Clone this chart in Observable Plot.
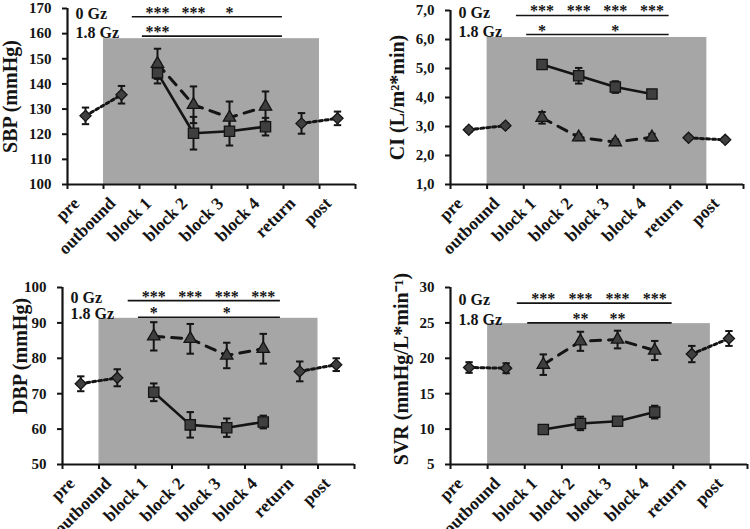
<!DOCTYPE html>
<html><head><meta charset="utf-8">
<script src="https://cdn.jsdelivr.net/npm/d3@7"></script>
<script src="https://cdn.jsdelivr.net/npm/@observablehq/plot@0.6"></script>
<style>
body{margin:0;background:#fff;}
#wrap{position:relative;width:750px;height:529px;overflow:hidden;background:#fff;}
.panel{position:absolute;}
</style></head><body><div id="wrap"></div>
<script>
// ---- shared categories ----
const categories = ["pre", "outbound", "block 1", "block 2", "block 3", "block 4", "return", "post"];
const baselineLabels = ["pre", "outbound", "return", "post"];
const blockLabels = ["block 1", "block 2", "block 3", "block 4"];
const gzLabels = ["0 Gz", "1.8 Gz"];

// ---- SBP (mmHg) ----
const sbpTicks = [100, 110, 120, 130, 140, 150, 160, 170];
const sbpBase = [127.3, 135.7, 124.3, 126.3];
const sbpBaseErr = [3.3, 3.5, 4.1, 2.7];
const sbp0Gz = [144.4, 120.4, 121.2, 123.0];
const sbp0GzErr = [4.2, 6.5, 5.7, 3.5];
const sbp18Gz = [148.0, 131.7, 126.6, 131.0];
const sbp18GzErr = [6.0, 7.3, 6.4, 6.0];
const sbpStars0Gz = ["***", "***", "*", ""];
const sbpStars18Gz = ["***", "", "", ""];
const sbpSigLevels = [166.7, 159.0];
const sbpShadeTop = 158;

// ---- CI (L/m2*min) ----
const ciTicks = [1, 2, 3, 4, 5, 6, 7];
const ciBase = [2.89, 3.03, 2.61, 2.54];
const ciBaseErr = [0.07, 0.07, 0.07, 0.07];
const ci0Gz = [5.14, 4.75, 4.36, 4.12];
const ci0GzErr = [0.15, 0.27, 0.2, 0.1];
const ci18Gz = [3.30, 2.63, 2.46, 2.63];
const ci18GzErr = [0.2, 0.1, 0.1, 0.12];
const ciStars0Gz = ["***", "***", "***", "***"];
const ciStars18Gz = ["*", "", "*", ""];
const ciSigLevels = [6.83, 6.17];
const ciShadeTop = 6.07;

// ---- DBP (mmHg) ----
const dbpTicks = [50, 60, 70, 80, 90, 100];
const dbpBase = [72.8, 74.5, 76.3, 78.2];
const dbpBaseErr = [2.1, 2.4, 2.8, 1.8];
const dbp0Gz = [70.4, 61.2, 60.4, 62.0];
const dbp0GzErr = [2.5, 3.6, 2.6, 1.8];
const dbp18Gz = [86.2, 85.5, 80.8, 82.7];
const dbp18GzErr = [4.0, 4.2, 3.6, 4.2];
const dbpStars0Gz = ["***", "***", "***", "***"];
const dbpStars18Gz = ["*", "", "*", ""];
const dbpSigLevels = [96.3, 91.6];
const dbpShadeTop = 91.3;

// ---- SVR (mmHg/L*min-1) ----
const svrTicks = [5, 10, 15, 20, 25, 30];
const svrBase = [18.7, 18.6, 20.6, 22.8];
const svrBaseErr = [0.75, 0.7, 1.15, 1.05];
const svr0Gz = [9.95, 10.8, 11.1, 12.4];
const svr0GzErr = [0.5, 0.95, 0.4, 0.9];
const svr18Gz = [19.1, 22.4, 22.65, 21.1];
const svr18GzErr = [1.45, 1.35, 1.25, 1.35];
const svrStars0Gz = ["***", "***", "***", "***"];
const svrStars18Gz = ["", "**", "**", ""];
const svrSigLevels = [27.8, 25.0];
const svrShadeTop = 24.9;

// ---- panel layout ----
const panels = [
  {label: "SBP (mmHg)", ticks: sbpTicks, base: sbpBase, baseErr: sbpBaseErr, g0: sbp0Gz, g0Err: sbp0GzErr, g18: sbp18Gz, g18Err: sbp18GzErr,
   stars0: sbpStars0Gz, stars18: sbpStars18Gz, sig: sbpSigLevels, shade: sbpShadeTop, fmt: d => String(d),
   left: 0, top: 0, width: 375, height: 265, ml: 67, mr: 20, mt: 8, mb: 81, labelDx: -57, labelDy: 0},
  {label: "CI (L/m²*min)", ticks: ciTicks, base: ciBase, baseErr: ciBaseErr, g0: ci0Gz, g0Err: ci0GzErr, g18: ci18Gz, g18Err: ci18GzErr,
   stars0: ciStars0Gz, stars18: ciStars18Gz, sig: ciSigLevels, shade: ciShadeTop, fmt: d => d.toFixed(1).replace(".", ","),
   left: 375, top: 0, width: 375, height: 265, ml: 75, mr: 7, mt: 10, mb: 81, labelDx: -53, labelDy: 0},
  {label: "DBP (mmHg)", ticks: dbpTicks, base: dbpBase, baseErr: dbpBaseErr, g0: dbp0Gz, g0Err: dbp0GzErr, g18: dbp18Gz, g18Err: dbp18GzErr,
   stars0: dbpStars0Gz, stars18: dbpStars18Gz, sig: dbpSigLevels, shade: dbpShadeTop, fmt: d => String(d),
   left: 0, top: 265, width: 375, height: 264, ml: 62, mr: 21, mt: 22, mb: 65, labelDx: -42, labelDy: -20},
  {label: "SVR (mmHg/L*min⁻¹)", ticks: svrTicks, base: svrBase, baseErr: svrBaseErr, g0: svr0Gz, g0Err: svr0GzErr, g18: svr18Gz, g18Err: svr18GzErr,
   stars0: svrStars0Gz, stars18: svrStars18Gz, sig: svrSigLevels, shade: svrShadeTop, fmt: d => String(d),
   left: 375, top: 265, width: 375, height: 264, ml: 75, mr: 3, mt: 22, mb: 65, labelDx: -49, labelDy: -7}
];

// significance bar spans, in category-index units
const sigSpans = [[1.3, 5.47], [1.58, 5.47]];

const idx = name => categories.indexOf(name);
const capSymbol = {draw(ctx, size) { const w = Math.sqrt(size / Math.PI); ctx.moveTo(-w, 0); ctx.lineTo(w, 0); }};
const ink = "#141414";
const markerFill = "#3f3f3f";

function makePanel(p) {
  const ymin = p.ticks[0], ymax = p.ticks[p.ticks.length - 1];
  const baseData = baselineLabels.map((c, k) => ({i: idx(c), v: p.base[k], e: p.baseErr[k], seg: k < 2 ? "before" : "after"}));
  const g0Data = blockLabels.map((c, k) => ({i: idx(c), v: p.g0[k], e: p.g0Err[k]}));
  const g18Data = blockLabels.map((c, k) => ({i: idx(c), v: p.g18[k], e: p.g18Err[k]}));
  const allPts = [...baseData, ...g0Data, ...g18Data];
  const bars = gzLabels.map((g, k) => ({label: g, value: p.sig[k], from: sigSpans[k][0], to: sigSpans[k][1]}));
  const stars = [
    ...blockLabels.map((c, k) => ({i: idx(c), v: p.sig[0], t: p.stars0[k]})),
    ...blockLabels.map((c, k) => ({i: idx(c), v: p.sig[1], t: p.stars18[k]}))
  ].filter(d => d.t);
  const boundaries = categories.map((c, i) => i - 0.5).concat([categories.length - 0.5]);

  return Plot.plot({
    width: p.width, height: p.height,
    marginLeft: p.ml, marginRight: p.mr, marginTop: p.mt, marginBottom: p.mb,
    style: {fontFamily: "'Liberation Serif', 'Times New Roman', serif", fontWeight: "bold", color: ink, background: "transparent", overflow: "visible"},
    x: {domain: [-0.5, categories.length - 0.5], axis: null},
    y: {domain: [ymin, ymax], axis: null},
    marks: [
      Plot.rect([p.shade], {x1: idx("outbound") - 0.5, x2: idx("return") + 0.5, y1: ymin, y2: d => d, fill: "#a6a6a6"}),
      Plot.ruleY([ymin], {stroke: ink, strokeWidth: 2.2}),
      Plot.ruleX([boundaries[0]], {stroke: ink, strokeWidth: 2.2}),
      Plot.axisY({ticks: p.ticks, tickSize: 5, tickPadding: 11, tickFormat: p.fmt, fontSize: 15, label: null, strokeWidth: 2}),
      Plot.axisX({ticks: boundaries, tickSize: 5, tickFormat: () => "", label: null, strokeWidth: 2}),
      Plot.text(categories, {x: (d, i) => i, frameAnchor: "bottom", rotate: -45, textAnchor: "end", lineAnchor: "middle", dx: -9, dy: 16, fontSize: 17.5}),
      Plot.text([p.label], {frameAnchor: "left", rotate: -90, textAnchor: "middle", lineAnchor: "middle", dx: p.labelDx, dy: p.labelDy, fontSize: 20}),
      // significance bars
      Plot.ruleY(bars, {y: "value", x1: "from", x2: "to", stroke: ink, strokeWidth: 1.6}),
      Plot.text(bars, {y: "value", text: "label", frameAnchor: "left", textAnchor: "start", dx: 8, dy: -3, fontSize: 16}),
      Plot.text(stars, {x: "i", y: "v", text: "t", lineAnchor: "bottom", dy: 1, fontSize: 16}),
      // series lines
      Plot.line(baseData, {x: "i", y: "v", z: "seg", stroke: ink, strokeWidth: 3, strokeDasharray: "3,3"}),
      Plot.line(g0Data, {x: "i", y: "v", stroke: ink, strokeWidth: 2.6}),
      Plot.line(g18Data, {x: "i", y: "v", stroke: ink, strokeWidth: 3, strokeDasharray: "10,8"}),
      // error bars
      Plot.ruleX(allPts, {x: "i", y1: d => d.v - d.e, y2: d => d.v + d.e, stroke: ink, strokeWidth: 2}),
      Plot.dot(allPts, {x: "i", y: d => d.v + d.e, symbol: capSymbol, r: 3.7, stroke: ink, strokeWidth: 2}),
      Plot.dot(allPts, {x: "i", y: d => d.v - d.e, symbol: capSymbol, r: 3.7, stroke: ink, strokeWidth: 2}),
      // markers
      Plot.dot(baseData, {x: "i", y: "v", symbol: "diamond2", r: 5, fill: markerFill, stroke: ink, strokeWidth: 1.3}),
      Plot.dot(g18Data, {x: "i", y: "v", symbol: "triangle", r: 4.6, fill: markerFill, stroke: ink, strokeWidth: 1.3}),
      Plot.dot(g0Data, {x: "i", y: "v", symbol: "square", r: 5.8, fill: markerFill, stroke: ink, strokeWidth: 1.3})
    ]
  });
}

const wrap = document.getElementById("wrap");
for (const p of panels) {
  const div = document.createElement("div");
  div.className = "panel";
  div.style.left = p.left + "px";
  div.style.top = p.top + "px";
  div.appendChild(makePanel(p));
  wrap.appendChild(div);
}
</script>
</body></html>
